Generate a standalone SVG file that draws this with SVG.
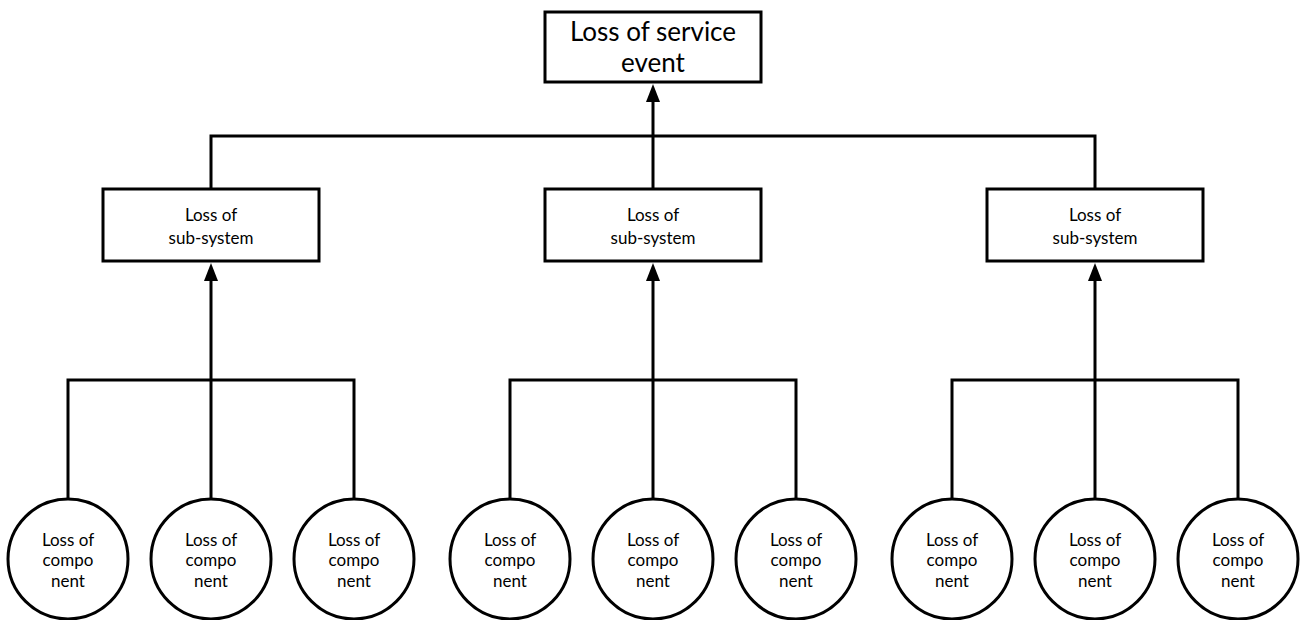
<svg xmlns="http://www.w3.org/2000/svg" width="1300" height="620" viewBox="0 0 1300 620">
  <defs>
    <style>
      .box { fill: #fff; stroke: #000; stroke-width: 3; }
      .comp { fill: #fff; stroke: #000; stroke-width: 3; }
      .wire { fill: none; stroke: #000; stroke-width: 3; }
      .head { fill: #000; }
      .lbl { font-family: Lato, "Open Sans", "Liberation Sans", sans-serif; font-size: 17px; fill: #000; text-anchor: middle; }
      .big { font-family: Lato, "Open Sans", "Liberation Sans", sans-serif; font-size: 26px; fill: #000; text-anchor: middle; }
    </style>
  </defs>
  <rect width="1300" height="620" fill="#fff"/>

  <!-- connectors -->
  <g id="connectors">
    <!-- sub-systems to top event -->
    <polyline class="wire" points="211,189 211,136 1095,136 1095,189"/>
    <line class="wire" x1="653" y1="189" x2="653" y2="102"/>
    <path class="head" d="M646,102 L653,84 L660,102 Z"/>
    <!-- components to sub-systems -->
    <polyline class="wire" points="68,499 68,380 354,380 354,499"/>
    <line class="wire" x1="211" y1="499" x2="211" y2="281"/>
    <path class="head" d="M204,281 L211,263 L218,281 Z"/>
    <polyline class="wire" points="510,499 510,380 796,380 796,499"/>
    <line class="wire" x1="653" y1="499" x2="653" y2="281"/>
    <path class="head" d="M646,281 L653,263 L660,281 Z"/>
    <polyline class="wire" points="952,499 952,380 1238,380 1238,499"/>
    <line class="wire" x1="1095" y1="499" x2="1095" y2="281"/>
    <path class="head" d="M1088,281 L1095,263 L1102,281 Z"/>
  </g>

  <!-- top event -->
  <g id="top-event">
    <rect class="box" x="545" y="12" width="216" height="70"/>
    <text class="big" x="653" y="41">Loss of service</text>
    <text class="big" x="653" y="72">event</text>
  </g>

  <!-- sub-systems -->
  <g id="subsystem-1">
    <rect class="box" x="103" y="189" width="216" height="72"/>
    <text class="lbl" x="211" y="221">Loss of</text>
    <text class="lbl" x="211" y="244">sub-system</text>
  </g>
  <g id="subsystem-2">
    <rect class="box" x="545" y="189" width="216" height="72"/>
    <text class="lbl" x="653" y="221">Loss of</text>
    <text class="lbl" x="653" y="244">sub-system</text>
  </g>
  <g id="subsystem-3">
    <rect class="box" x="987" y="189" width="216" height="72"/>
    <text class="lbl" x="1095" y="221">Loss of</text>
    <text class="lbl" x="1095" y="244">sub-system</text>
  </g>

  <!-- components -->
  <g id="component-1"><circle class="comp" cx="68" cy="559" r="60"/><text class="lbl" x="68" y="546">Loss of</text><text class="lbl" x="68" y="566">compo</text><text class="lbl" x="68" y="587">nent</text></g>
  <g id="component-2"><circle class="comp" cx="211" cy="559" r="60"/><text class="lbl" x="211" y="546">Loss of</text><text class="lbl" x="211" y="566">compo</text><text class="lbl" x="211" y="587">nent</text></g>
  <g id="component-3"><circle class="comp" cx="354" cy="559" r="60"/><text class="lbl" x="354" y="546">Loss of</text><text class="lbl" x="354" y="566">compo</text><text class="lbl" x="354" y="587">nent</text></g>
  <g id="component-4"><circle class="comp" cx="510" cy="559" r="60"/><text class="lbl" x="510" y="546">Loss of</text><text class="lbl" x="510" y="566">compo</text><text class="lbl" x="510" y="587">nent</text></g>
  <g id="component-5"><circle class="comp" cx="653" cy="559" r="60"/><text class="lbl" x="653" y="546">Loss of</text><text class="lbl" x="653" y="566">compo</text><text class="lbl" x="653" y="587">nent</text></g>
  <g id="component-6"><circle class="comp" cx="796" cy="559" r="60"/><text class="lbl" x="796" y="546">Loss of</text><text class="lbl" x="796" y="566">compo</text><text class="lbl" x="796" y="587">nent</text></g>
  <g id="component-7"><circle class="comp" cx="952" cy="559" r="60"/><text class="lbl" x="952" y="546">Loss of</text><text class="lbl" x="952" y="566">compo</text><text class="lbl" x="952" y="587">nent</text></g>
  <g id="component-8"><circle class="comp" cx="1095" cy="559" r="60"/><text class="lbl" x="1095" y="546">Loss of</text><text class="lbl" x="1095" y="566">compo</text><text class="lbl" x="1095" y="587">nent</text></g>
  <g id="component-9"><circle class="comp" cx="1238" cy="559" r="60"/><text class="lbl" x="1238" y="546">Loss of</text><text class="lbl" x="1238" y="566">compo</text><text class="lbl" x="1238" y="587">nent</text></g>
</svg>
